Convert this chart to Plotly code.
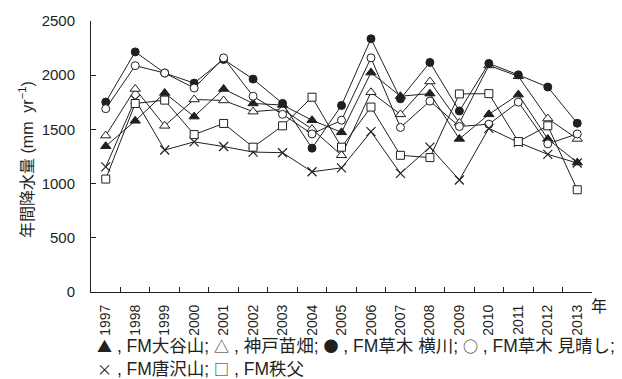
import plotly.graph_objects as go

years = [str(y) for y in range(1997, 2014)]

# Annual precipitation (mm yr-1) per site
fm_ooyasan = [1345, 1579, 1836, 1618, 1873, 1739, 1725, 1585, 1473, 2024, 1806, 1830, 1412, 1639, 1821, 1412, 1194]
kobe_nursery = [1443, 1873, 1533, 1776, 1767, 1664, 1685, 1503, 1261, 1842, 1639, 1942, 1560, 2090, 1990, 1600, 1412]
kusaki_yokokawa = [1752, 2215, 2020, 1927, 2145, 1964, 1740, 1327, 1721, 2336, 1782, 2118, 1670, 2109, 2003, 1891, 1557]
kusaki_miharashi = [1691, 2088, 2020, 1882, 2160, 1806, 1639, 1458, 1585, 2160, 1518, 1761, 1527, 1548, 1752, 1367, 1458]
fm_karasawayama = [1155, 1775, 1310, 1385, 1342, 1291, 1285, 1109, 1145, 1479, 1094, 1336, 1033, 1510, 1380, 1270, 1190]
fm_chichibu = [1042, 1739, 1770, 1452, 1555, 1336, 1533, 1797, 1336, 1706, 1261, 1240, 1827, 1830, 1388, 1533, 943]

INK = "#231f20"
FONT = "Liberation Sans, Arial, Noto Sans CJK JP"

series = [
    ("FM大谷山", fm_ooyasan, dict(symbol="triangle-up", size=9, color=INK, line=dict(color=INK, width=1))),
    ("神戸苗畑", kobe_nursery, dict(symbol="triangle-up", size=9, color="white", line=dict(color=INK, width=1))),
    ("FM草木 横川", kusaki_yokokawa, dict(symbol="circle", size=8, color=INK, line=dict(color=INK, width=1))),
    ("FM草木 見晴し", kusaki_miharashi, dict(symbol="circle", size=8, color="white", line=dict(color=INK, width=1))),
    ("FM唐沢山", fm_karasawayama, dict(symbol="x-thin", size=9, color=INK, line=dict(color=INK, width=1.2))),
    ("FM秩父", fm_chichibu, dict(symbol="square", size=8, color="white", line=dict(color=INK, width=1))),
]

fig = go.Figure()
for name, vals, marker in series:
    fig.add_trace(go.Scatter(
        x=years, y=vals, name=name, mode="lines+markers",
        line=dict(color=INK, width=1), marker=marker, showlegend=False,
    ))

fig.update_layout(
    width=622, height=379,
    margin=dict(l=91, r=30, t=17, b=87),
    plot_bgcolor="white", paper_bgcolor="white",
    font=dict(family=FONT, size=15, color=INK),
)
fig.update_xaxes(
    type="category", range=[-0.5, 16.5], tickson="boundaries",
    ticks="inside", ticklen=5, tickcolor=INK, tickangle=-90, ticklabelstandoff=6,
    showline=True, linecolor=INK, linewidth=1, showgrid=False, zeroline=False,
    tickfont=dict(size=14),
)
fig.update_yaxes(
    range=[0, 2500], tickvals=[0, 500, 1000, 1500, 2000, 2500],
    ticks="inside", ticklen=5, tickcolor=INK, ticklabelstandoff=12,
    showline=True, linecolor=INK, linewidth=1, showgrid=False, zeroline=False,
    tickfont=dict(size=15),
)


def sym(ch):
    return f'<span style="font-family:Noto Sans CJK JP;font-size:15px">{ch}</span>'


key_text = (
    f"{sym('▲')} , FM大谷山; {sym('△')} , 神戸苗畑; {sym('●')} , FM草木 横川; {sym('○')} , FM草木 見晴し;"
    f"<br>{sym('×')} , FM唐沢山; {sym('□')} , FM秩父"
)

annotations = [
    dict(text="年間降水量 (mm  yr<sup>−1</sup>)", x=26, y=158,
         textangle=-90, font=dict(size=16)),
    dict(text="年", x=599, y=307, font=dict(size=16)),
    dict(text=key_text, x=95, y=358, xanchor="left", align="left",
         font=dict(size=17.5)),
]
# place annotations by pixel position on the page
W, H = 622, 379
l, r, t, b = 91, 30, 17, 87
pw, ph = W - l - r, H - t - b
for a in annotations:
    a["x"] = (a["x"] - l) / pw
    a["y"] = (H - b - a["y"]) / ph
    a.setdefault("xanchor", "center")
    fig.add_annotation(xref="paper", yref="paper", yanchor="middle",
                       showarrow=False, **a)

fig.write_html("out.html")
